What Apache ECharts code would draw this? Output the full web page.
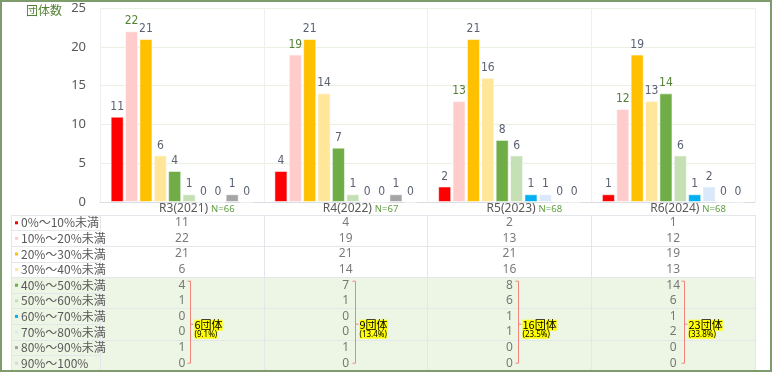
<!DOCTYPE html>
<html><head><meta charset="utf-8">
<script src="https://cdn.jsdelivr.net/npm/echarts@6/dist/echarts.min.js"></script>
<style>html,body{margin:0;padding:0;background:#fff}#c{width:773px;height:372px}</style>
</head><body><div id="c"></div>
<script>
// ---- data ----
const periods = ['R3(2021)', 'R4(2022)', 'R5(2023)', 'R6(2024)'];
const sampleN = [66, 67, 68, 68];
const bandNames = ['0%～10%未満', '10%～20%未満', '20%～30%未満', '30%～40%未満', '40%～50%未満',
  '50%～60%未満', '60%～70%未満', '70%～80%未満', '80%～90%未満', '90%～100%'];
const band0 = [11, 4, 2, 1];
const band1 = [22, 19, 13, 12];
const band2 = [21, 21, 21, 19];
const band3 = [6, 14, 16, 13];
const band4 = [4, 7, 8, 14];
const band5 = [1, 1, 6, 6];
const band6 = [0, 0, 1, 1];
const band7 = [0, 0, 1, 2];
const band8 = [1, 1, 0, 0];
const band9 = [0, 0, 0, 0];
const yMin = 0, yMax = 25, yStep = 5;
const yAxisName = '団体数';
const highlightFrom = 4; // first band included in the bracketed group (40%～)
const groupSuffix = '団体';

// ---- styles ----
const bandValues = [band0, band1, band2, band3, band4, band5, band6, band7, band8, band9];
const colors = ['#FF0000', '#FFCCCC', '#FFC000', '#FFE699', '#70AD47', '#C5E0B4', '#00B0F0', '#DAE8FA', '#A5A5A5', '#D9D9D9'];
const greenLabel = '#548235';
const textGray = '#595959';
const labelGray = '#5a6272';
const numFont = '"Noto Sans", sans-serif';
const jpFont = '"Noto Sans CJK JP", sans-serif';
const condFont = '"Liberation Sans Narrow", "DejaVu Sans Condensed", "Noto Sans", sans-serif';
const lineGray = '#E3E6EA';
const bgGreen = '#EDF5E4';
const bracketColor = '#F0857A';
const bracketOffset = [8.5, 9, 9, 11];

const barSeries = bandValues.map((vals, b) => ({
  type: 'bar', name: bandNames[b], xAxisIndex: 0, yAxisIndex: 0,
  barGap: '10%', barCategoryGap: '13%',
  itemStyle: { color: colors[b], borderColor: 'rgba(255,255,255,0.55)', borderWidth: 1 },
  label: {
    show: true, position: 'top', distance: 4, fontSize: 12, fontFamily: condFont,
    color: (b === 1) ? greenLabel : labelGray
  },
  data: vals.map((v, p) => (b === 4 && p === 3) ? { value: v, label: { color: greenLabel } } : v)
}));

const cellData = [];
bandValues.forEach((vals, b) => vals.forEach((v, p) => cellData.push([p, b, v])));

const groupData = periods.map((_, p) => {
  let s = 0;
  for (let b = highlightFrom; b < bandValues.length; b++) s += bandValues[b][p];
  return [p, 0, s, (s / sampleN[p] * 100).toFixed(1), bracketOffset[p]];
});

function bgItem(params, api) {
  const cs = params.coordSys;
  const bandH = api.size([0, 1])[1];
  const yTop = api.coord([0, highlightFrom])[1] - bandH / 2;
  const yBot = api.coord([0, bandNames.length - 1])[1] + bandH / 2;
  return { type: 'rect', shape: { x: cs.x, y: yTop, width: cs.width, height: yBot - yTop, r: params.seriesIndex === 0 ? 0 : [0, 4, 0, 0] },
    style: { fill: bgGreen } };
}

const option = {
  animation: false,
  backgroundColor: '#fff',
  grid: [
    { left: 100, right: 18, top: 8, height: 194 },
    { left: 11, width: 89, top: 215, height: 156 },
    { left: 100, right: 18, top: 215, height: 156 }
  ],
  xAxis: [
    { gridIndex: 0, type: 'category', data: periods,
      axisLine: { lineStyle: { color: '#D9DDE3' } }, axisTick: { show: false },
      splitLine: { show: true, lineStyle: { color: '#EEF0F0' } },
      axisLabel: { margin: 1, interval: 0,
        formatter: (v, i) => `{a|${v}}{n|N=${sampleN[i]}}`,
        rich: { a: { fontSize: 12, color: textGray, fontFamily: numFont, padding: [0, 0, 0, 30] },
                n: { fontSize: 9.5, color: '#5E9E40', fontFamily: numFont, padding: [0, 0, 0, 3] } } } },
    { gridIndex: 1, type: 'category', data: [''], axisLine: { show: false }, axisTick: { show: false }, axisLabel: { show: false },
      splitLine: { show: true, lineStyle: { color: lineGray } } },
    { gridIndex: 2, type: 'category', data: periods, axisLine: { show: false }, axisTick: { show: false }, axisLabel: { show: false },
      splitLine: { show: true, lineStyle: { color: lineGray } } }
  ],
  yAxis: [
    { gridIndex: 0, type: 'value', min: yMin, max: yMax, interval: yStep,
      name: yAxisName, nameLocation: 'end', nameGap: -8,
      nameTextStyle: { color: greenLabel, fontSize: 12, fontFamily: jpFont, align: 'right', verticalAlign: 'bottom', padding: [0, 38, 0, 0] },
      axisLine: { show: false }, axisTick: { show: false },
      axisLabel: { color: textGray, fontSize: 13, fontFamily: numFont, margin: 14 },
      splitLine: { lineStyle: { color: '#E8F1E2' } } },
    { gridIndex: 1, type: 'category', data: bandNames, inverse: true,
      axisLine: { show: false }, axisTick: { show: false },
      splitLine: { show: true, lineStyle: { color: lineGray } },
      axisLabel: { inside: true, margin: 4, interval: 0,
        formatter: (v, i) => `{m${i}|}{t|${v}}`,
        rich: Object.assign({ t: { fontSize: 12, color: textGray, fontFamily: jpFont, padding: [0, 0, 0, 3] } },
          Object.fromEntries(colors.map((c, i) => ['m' + i, { width: 3, height: 3, backgroundColor: c }]))) } },
    { gridIndex: 2, type: 'category', data: bandNames, inverse: true,
      axisLine: { show: false }, axisTick: { show: false }, axisLabel: { show: false },
      splitLine: { show: true, lineStyle: { color: lineGray } } }
  ],
  series: [
    { type: 'custom', xAxisIndex: 1, yAxisIndex: 1, z: -1, silent: true, renderItem: bgItem, data: [[0, 0]] },
    { type: 'custom', xAxisIndex: 2, yAxisIndex: 2, z: -1, silent: true, renderItem: bgItem, data: [[0, 0]] },
    ...barSeries,
    { type: 'scatter', xAxisIndex: 2, yAxisIndex: 2, symbolSize: 1, itemStyle: { color: 'rgba(0,0,0,0)' },
      label: { show: true, position: 'inside', color: textGray, fontSize: 12, fontFamily: numFont, formatter: p => p.value[2] },
      data: cellData },
    { type: 'custom', xAxisIndex: 2, yAxisIndex: 2, z: 5, clip: false,
      renderItem: (params, api) => {
        const col = api.value(0);
        const total = api.value(2);
        const pct = api.value(3);
        const off = api.value(4);
        const cTop = api.coord([col, highlightFrom]);
        const cBot = api.coord([col, bandNames.length - 1]);
        const mid = (api.coord([col, 6])[1] + api.coord([col, 7])[1]) / 2;
        const x = Math.round(cTop[0] + off) + 0.5;
        const top = cTop[1] - 4, bot = cBot[1];
        return { type: 'group', children: [
          { type: 'polyline', shape: { points: [[x - 3, top], [x, top], [x, bot], [x - 3, bot]] }, style: { stroke: bracketColor, fill: null, lineWidth: 1 } },
          { type: 'line', shape: { x1: x, y1: mid, x2: x + 3, y2: mid }, style: { stroke: bracketColor, lineWidth: 1 } },
          { type: 'text', style: { text: total + groupSuffix, x: x + 4, y: mid + 1, verticalAlign: 'middle', fill: '#000', font: '11px ' + jpFont, backgroundColor: '#FFFF00' } },
          { type: 'text', style: { text: '(' + Number(pct).toFixed(1) + '%)', x: x + 4, y: mid + 6.5, verticalAlign: 'top', fill: '#000', font: '8px ' + numFont, backgroundColor: '#FFFF00' } }
        ] };
      },
      data: groupData }
  ],
  graphic: [
    { type: 'rect', shape: { x: 1, y: 1, width: 770, height: 370 }, style: { fill: null, stroke: '#7D9B6D', lineWidth: 2 }, z: 100, silent: true }
  ]
};

const chart = echarts.init(document.getElementById('c'), null, { renderer: 'canvas' });
chart.setOption(option);
</script></body></html>
